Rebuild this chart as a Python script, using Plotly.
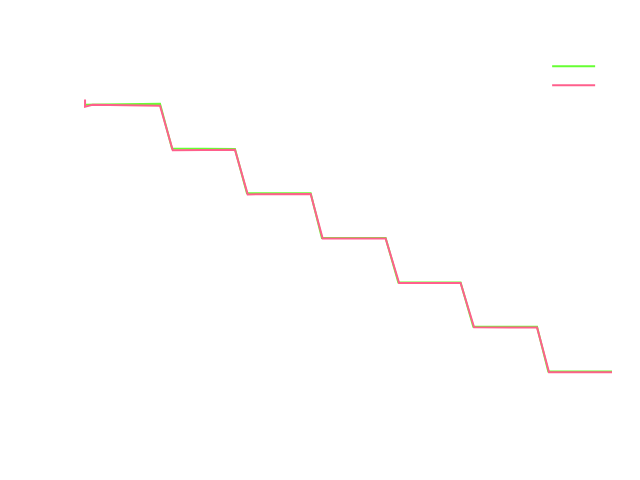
import plotly.graph_objects as go

# Datos (escalones descendentes)
x_verde = [0, 10.0, 11.6, 20.0, 21.6, 30.1, 31.6, 40.1, 41.8, 50.1, 51.8, 60.3, 61.8, 70.3]
y_verde = [7.0, 7.025, 6.02, 6.01, 5.015, 5.015, 4.01, 4.01, 3.01, 3.015, 2.02, 2.02, 1.015, 1.015]

x_rosa = [0, 0, 1.0, 10.0, 11.7, 20.0, 21.7, 30.1, 31.7, 40.1, 41.9, 50.1, 51.9, 60.3, 61.9, 70.3]
y_rosa = [7.12, 6.96, 7.0, 6.98, 5.98, 5.99, 4.99, 5.0, 4.0, 4.0, 3.0, 3.0, 2.01, 2.0, 1.0, 1.0]

fig = go.Figure()
fig.add_trace(go.Scatter(x=x_verde, y=y_verde, mode="lines", name="",
                         line=dict(color="#66ff33", width=2)))
fig.add_trace(go.Scatter(x=x_rosa, y=y_rosa, mode="lines", name="",
                         line=dict(color="#ff5f8c", width=2)))

fig.update_layout(
    width=640, height=480,
    margin=dict(l=76, r=36, t=30, b=49),
    plot_bgcolor="white", paper_bgcolor="white",
    xaxis=dict(visible=False, range=[-0.14, 70.3]),
    yaxis=dict(visible=False, range=[-0.5, 8.5]),
    legend=dict(x=0.987, y=0.966, xanchor="right", yanchor="top",
                bgcolor="rgba(0,0,0,0)", itemwidth=43),
)

fig.write_html("out.html")
